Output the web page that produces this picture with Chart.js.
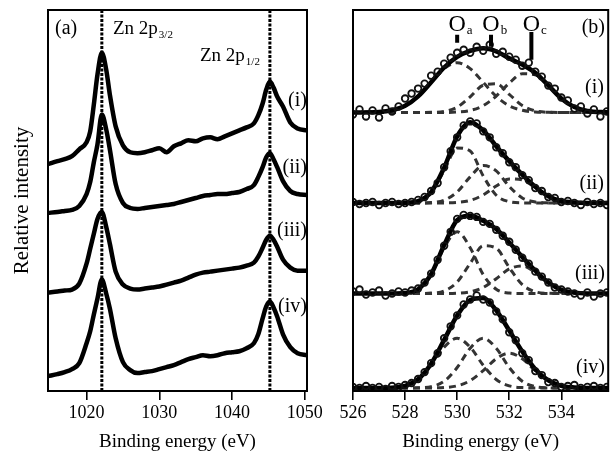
<!DOCTYPE html>
<html>
<head>
<meta charset="utf-8">
<script src="https://cdn.jsdelivr.net/npm/chart.js@4.4.1/dist/chart.umd.min.js"></script>
<style>
  html, body { margin: 0; padding: 0; background: #fff; }
  #wrap { position: relative; width: 614px; height: 462px; }
  #ca { position: absolute; left: 0; top: 0; }
  #cb { position: absolute; left: 330px; top: 0; }
</style>
</head>
<body>
<div id="wrap">
  <canvas id="ca" width="330" height="462"></canvas>
  <canvas id="cb" width="284" height="462"></canvas>
</div>
<script>
// intensities are in arbitrary units (curves are stacked with offsets, as in the figure)

// ---- panel (a): Zn 2p ----
const energyA = [1014.7, 1016, 1017, 1018, 1019, 1020, 1020.5, 1021, 1021.5, 1022.1, 1022.7, 1023.2, 1024, 1025, 1026, 1027, 1028, 1029, 1030, 1031, 1032, 1033, 1034, 1035, 1036, 1037, 1038, 1039, 1040, 1041, 1042, 1043, 1043.6, 1044.2, 1044.7, 1045.2, 1045.7, 1046.2, 1047, 1048, 1049, 1050.3];
const znI   = [228, 231, 233, 236, 243, 250, 261, 288, 318, 340, 323, 298, 266, 247, 240, 239, 240, 242, 244, 240, 246, 249, 252, 251, 254, 255, 253, 256, 259, 262, 265, 269, 277, 289, 303, 311, 305, 296, 286, 270, 264, 262];
const znII  = [179, 180, 181, 182, 186, 198, 210, 230, 248, 278, 263, 243, 208, 189, 184, 183, 184, 185, 186, 187, 188, 190, 192, 194, 196, 197, 198, 198, 199, 200, 203, 207, 215, 225, 235, 239, 233, 225, 211, 201, 198, 197];
const znIII = [99, 100, 101, 102, 108, 128, 143, 158, 173, 180, 165, 148, 120, 107, 103, 102, 103, 104, 105, 107, 109, 111, 114, 117, 119, 120, 121, 122, 123, 124, 126, 129, 135, 144, 152, 156, 152, 145, 132, 124, 121, 121];
const znIV  = [15, 17, 19, 22, 28, 48, 60, 77, 93, 112, 98, 83, 53, 29, 21, 18, 19, 20, 22, 24, 26, 29, 32, 34, 36, 35, 36, 38, 39, 40, 43, 48, 57, 73, 85, 90, 84, 75, 57, 44, 38, 36];
const znPeaks = [1022.1, 1045.2];
const ticksA = [1020, 1030, 1040, 1050];

// ---- panel (b): O 1s fits ----
const energyB = [526, 527, 527.5, 528, 528.5, 529, 529.5, 530, 530.5, 531, 531.5, 532, 532.5, 533, 533.5, 534, 534.5, 535, 535.8];
const fitI   = [0, 0.5, 2.2, 6.7, 16.2, 30.4, 45.2, 55.8, 61.8, 64.5, 61.5, 54.4, 48.1, 39.9, 27.3, 14.1, 5.4, 1.5, 0.1];
const oaI    = [0, 0.5, 2.2, 6.7, 16.2, 30.3, 44.1, 50, 44.1, 30.3, 16.2, 6.7, 2.2, 0.5, 0.1, 0, 0, 0, 0];
const obI    = [0, 0, 0, 0, 0, 0.1, 1.1, 5.3, 15.7, 27.4, 28.8, 18.2, 6.9, 1.6, 0.2, 0, 0, 0, 0];
const ocI    = [0, 0, 0, 0, 0, 0, 0, 0.5, 2.0, 6.8, 16.5, 29.5, 39.0, 37.8, 27.0, 14.1, 5.4, 1.5, 0.1];
const fitII  = [0, 0, 0, 0.2, 1.9, 11.0, 35.4, 67.0, 81.1, 72.9, 57.1, 42.1, 28.5, 16.2, 6.8, 2.0, 0.4, 0, 0];
const oaII   = [0, 0, 0, 0.2, 1.9, 10.6, 32.5, 55.3, 52.2, 27.2, 7.8, 1.3, 0.1, 0, 0, 0, 0, 0, 0];
const obII   = [0, 0, 0, 0, 0, 0.4, 2.8, 11.1, 26.3, 37.6, 32.3, 16.6, 5.1, 1.0, 0.1, 0, 0, 0, 0];
const ocII   = [0, 0, 0, 0, 0, 0, 0.1, 0.6, 2.6, 8.1, 17.0, 24.2, 23.3, 15.2, 6.7, 2.0, 0.4, 0, 0];
const fitIII = [0, 0, 0, 0.5, 4.3, 19.4, 48.7, 73.8, 78.1, 73.1, 64.8, 51.3, 36.7, 22.9, 11.1, 3.8, 0.9, 0.1, 0];
const oaIII  = [0, 0, 0, 0.5, 4.3, 19.0, 46.1, 62, 46.1, 19.0, 4.3, 0.5, 0, 0, 0, 0, 0, 0, 0];
const obIII  = [0, 0, 0, 0, 0, 0.4, 2.6, 11.5, 30.3, 48.0, 45.6, 26.1, 8.9, 1.8, 0.2, 0, 0, 0, 0];
const ocIII  = [0, 0, 0, 0, 0, 0, 0, 0.3, 1.7, 6.1, 14.9, 24.7, 27.8, 21.1, 10.9, 3.8, 0.9, 0.1, 0];
const fitIV  = [0, 0, 0.4, 2.2, 8.8, 24.4, 48.4, 72.8, 88.5, 90.4, 78.0, 57.8, 36.6, 18.9, 7.6, 2.2, 0.5, 0.1, 0];
const oaIV   = [0, 0, 0.4, 2.2, 8.6, 22.9, 41.1, 50, 41.1, 22.9, 8.6, 2.2, 0.4, 0, 0, 0, 0, 0, 0];
const obIV   = [0, 0, 0, 0, 0.2, 1.4, 6.8, 20.6, 40.0, 50, 40.0, 20.6, 6.8, 1.4, 0.2, 0, 0, 0, 0];
const ocIV   = [0, 0, 0, 0, 0, 0.1, 0.5, 2.2, 7.4, 17.5, 29.4, 35, 29.4, 17.5, 7.4, 2.2, 0.5, 0.1, 0];

// measured points (open circles)
const dataE = [526, 526.25, 526.5, 526.75, 527, 527.25, 527.5, 527.75, 528, 528.25, 528.5, 528.75, 529, 529.25, 529.5, 529.75, 530, 530.25, 530.5, 530.75, 531, 531.25, 531.5, 531.75, 532, 532.25, 532.5, 532.75, 533, 533.25, 533.5, 533.75, 534, 534.25, 534.5, 534.75, 535, 535.25, 535.5, 535.75];
const dataI   = [-2, 3, -4, 2, -5, 4, 1, 6, 14, 19, 24, 29, 37, 41, 49, 55, 60, 63, 60, 66, 62, 68, 59, 61, 56, 53, 47, 50, 41, 36, 27, 24, 15, 12, 4, 6, -1, 3, -4, 1];
const dataII  = [1, -1, 0, 1, -2, 0, 1, -1, 0, 1, 3, 6, 12, 20, 36, 52, 66, 78, 82, 80, 72, 66, 56, 50, 41, 36, 28, 23, 15, 12, 6, 5, 1, 2, 0, -2, 1, -1, 0, -2];
const dataIII = [2, 4, -1, 1, 3, -2, 0, 2, 1, 3, 5, 11, 20, 34, 48, 62, 75, 79, 78, 77, 72, 70, 64, 58, 52, 44, 36, 30, 22, 17, 11, 6, 4, 2, 0, -2, 1, -3, 0, 1];
const dataIV  = [1, 0, 2, 0, 1, -1, 2, 1, 3, 5, 9, 16, 25, 35, 50, 62, 73, 84, 89, 93, 89, 86, 77, 69, 56, 48, 35, 28, 17, 13, 6, 5, 1, 2, 3, 0, 1, 2, 0, 1];
const baseB = [280, 189, 98, 3];
const ticksB = [526, 528, 530, 532, 534];

// Oa, Ob, Oc peak markers
const oMarkE = [530.0, 531.3, 532.85];
const oMarkTop = [358, 358, 361];
const oMarkBot = [350, 346, 333];
const oNames = ['a', 'b', 'c'];

const yMax = 383;
const serif = "'Liberation Serif', 'Times New Roman', serif";
Chart.defaults.font.family = serif;
Chart.defaults.color = '#000';

const pts = (xs, ys, off = 0) => xs.map((x, i) => ({ x, y: ys[i] + off }));

// frame box + free text
const framePlugin = {
  id: 'frame',
  afterDraw(chart, args, opts) {
    const { ctx, chartArea: a } = chart;
    const xs = chart.scales.x;
    ctx.save();
    ctx.strokeStyle = '#000';
    ctx.lineWidth = 2;
    ctx.strokeRect(a.left, a.top, a.right - a.left, a.bottom - a.top);
    ctx.fillStyle = '#000';
    ctx.textBaseline = 'alphabetic';
    (opts.labels || []).forEach(t => {
      ctx.font = t.size + 'px ' + serif;
      const x = t.e !== undefined ? xs.getPixelForValue(t.e) : t.x;
      const w = ctx.measureText(t.text).width;
      let left = x;
      if (t.align === 'center') left = x - w / 2;
      if (t.align === 'right') left = x - w;
      ctx.fillText(t.text, left, t.y);
      if (t.sub) {
        ctx.font = t.subSize + 'px ' + serif;
        ctx.fillText(t.sub, left + w + 1, t.y + t.subDy);
      }
    });
    ctx.restore();
  }
};

function xAxis(min, max, ticks) {
  return {
    type: 'linear', min, max,
    afterBuildTicks: s => { s.ticks = ticks.map(v => ({ value: v })); },
    grid: { drawOnChartArea: false, drawTicks: true, tickLength: 9, lineWidth: 1.6, color: '#000' },
    border: { display: true, color: '#000', width: 2 },
    ticks: { font: { size: 18 }, padding: 2, maxRotation: 0, color: '#000', callback: v => String(v) },
    title: { display: true, text: 'Binding energy (eV)', font: { size: 19 }, padding: { top: 5, bottom: 0 }, color: '#000' }
  };
}

// panel (a)
const curvesA = [znI, znII, znIII, znIV];
const dsA = [];
znPeaks.forEach(e => dsA.push({
  data: [{ x: e, y: 0 }, { x: e, y: yMax }],
  borderColor: '#000', borderWidth: 3, borderDash: [3, 1.5], pointRadius: 0
}));
curvesA.forEach(c => dsA.push({
  data: pts(energyA, c),
  borderColor: '#000', borderWidth: 4.5, pointRadius: 0,
  cubicInterpolationMode: 'monotone', borderJoinStyle: 'round'
}));

new Chart(document.getElementById('ca'), {
  type: 'line',
  data: { datasets: dsA },
  options: {
    responsive: false, animation: false,
    layout: { padding: { left: 4, right: 23, top: 10, bottom: 8.6 } },
    scales: {
      x: xAxis(1014.7, 1050.3, ticksA),
      y: {
        min: 0, max: yMax,
        ticks: { display: false },
        grid: { display: false, drawTicks: false },
        border: { display: false },
        title: { display: true, text: 'Relative intensity', font: { size: 21 }, padding: { top: 5.4, bottom: 13.4 }, color: '#000' }
      }
    },
    plugins: {
      legend: { display: false }, tooltip: { enabled: false },
      frame: {
        labels: [
          { text: '(a)', x: 55, y: 34, size: 20 },
          { text: 'Zn 2p', x: 113, y: 34, size: 19, sub: '3/2', subSize: 11, subDy: 4 },
          { text: 'Zn 2p', x: 200, y: 61, size: 19, sub: '1/2', subSize: 11, subDy: 4 },
          { text: '(i)', x: 307, y: 106, size: 20, align: 'right' },
          { text: '(ii)', x: 307, y: 173, size: 20, align: 'right' },
          { text: '(iii)', x: 307, y: 236, size: 20, align: 'right' },
          { text: '(iv)', x: 307, y: 312, size: 20, align: 'right' }
        ]
      }
    }
  },
  plugins: [framePlugin]
});

// panel (b)
const fitsB = [fitI, fitII, fitIII, fitIV];
const compsB = [[oaI, obI, ocI], [oaII, obII, ocII], [oaIII, obIII, ocIII], [oaIV, obIV, ocIV]];
const dataB = [dataI, dataII, dataIII, dataIV];
const dsB = [];
oMarkE.forEach((e, i) => dsB.push({
  data: [{ x: e, y: oMarkBot[i] }, { x: e, y: oMarkTop[i] }],
  borderColor: '#000', borderWidth: 4, pointRadius: 0
}));
dataB.forEach((d, k) => dsB.push({
  data: pts(dataE, d, baseB[k]),
  showLine: false, pointRadius: 3.3, pointBorderWidth: 1.8,
  pointBorderColor: '#111', pointBackgroundColor: 'rgba(255,255,255,0)'
}));
fitsB.forEach((f, k) => dsB.push({
  data: pts(energyB, f, baseB[k]),
  borderColor: '#000', borderWidth: 4.5, pointRadius: 0, cubicInterpolationMode: 'monotone'
}));
compsB.forEach((cs, k) => cs.forEach(c => dsB.push({
  data: pts(energyB, c, baseB[k]),
  borderColor: '#333', borderWidth: 3, borderDash: [7, 5], pointRadius: 0, cubicInterpolationMode: 'monotone'
})));

const oLabels = oMarkE.map((e, i) => ({ text: 'O', e, y: 31, size: 24, align: 'center', sub: oNames[i], subSize: 13, subDy: 3 }));

new Chart(document.getElementById('cb'), {
  type: 'line',
  data: { datasets: dsB },
  options: {
    responsive: false, animation: false,
    layout: { padding: { left: 23, right: 4, top: 10, bottom: 8.6 } },
    scales: {
      x: xAxis(526, 535.8, ticksB),
      y: { display: false, min: 0, max: yMax }
    },
    plugins: {
      legend: { display: false }, tooltip: { enabled: false },
      frame: {
        labels: oLabels.concat([
          { text: '(b)', x: 275, y: 33, size: 20, align: 'right' },
          { text: '(i)', x: 274, y: 93, size: 20, align: 'right' },
          { text: '(ii)', x: 274, y: 189, size: 20, align: 'right' },
          { text: '(iii)', x: 275, y: 279, size: 20, align: 'right' },
          { text: '(iv)', x: 275, y: 373, size: 20, align: 'right' }
        ])
      }
    }
  },
  plugins: [framePlugin]
});
</script>
</body>
</html>
